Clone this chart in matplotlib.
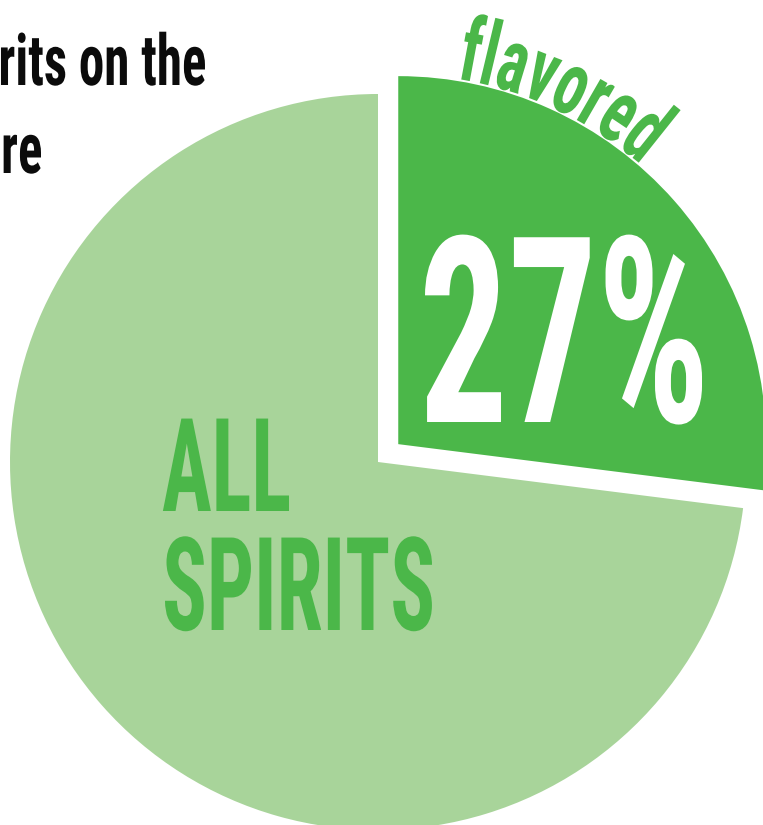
import numpy as np
import matplotlib
matplotlib.use("Agg")
import matplotlib.pyplot as plt
from matplotlib.patheffects import AbstractPathEffect
from matplotlib.transforms import Affine2D
from matplotlib.font_manager import FontProperties, findfont, get_font
from matplotlib.textpath import TextPath

# ---- data -------------------------------------------------------------
shares = [27, 73]
segment_names = ["flavored", "ALL SPIRITS"]
segment_colors = ["#4BB749", "#A8D49A"]
title_lines = ["Flavored spirits on the", "market share"]
title_color = "#0b0b0b"

# ---- canvas in pixel units --------------------------------------------
W, H = 763, 825
DPI = 100
PX = DPI / 72.0
fig = plt.figure(figsize=(W / DPI, H / DPI), dpi=DPI)
ax = fig.add_axes([0, 0, 1, 1])


def Y(py):
    """Convert a top-down pixel row to the axes' bottom-up y coordinate."""
    return H - py


class Tall(AbstractPathEffect):
    """Draw text glyphs stretched vertically about their baseline."""

    def __init__(self, sy):
        super().__init__()
        self.sy = sy

    def draw_path(self, renderer, gc, tpath, affine, rgbFace=None):
        renderer.draw_path(gc, tpath, Affine2D().scale(1.0, self.sy) + affine, rgbFace)


def pick_family():
    for fam in ["Roboto Condensed", "Open Sans Condensed", "Liberation Sans Narrow", "DejaVu Sans"]:
        try:
            findfont(FontProperties(family=fam, weight="bold"), fallback_to_default=False)
            return fam
        except Exception:
            continue
    return "DejaVu Sans"


FAM = pick_family()
FP = FontProperties(family=FAM, weight="bold")


def ink(s, size):
    """Ink extents of a string (left offset, width, height), in pixels."""
    e = TextPath((0, 0), s, size=size, prop=FP).get_extents()
    return e.x0 * PX, e.width * PX, e.height * PX


def fit(sample, width_px, height_px):
    """Font size giving the wanted ink width, the vertical stretch and the ink offset."""
    _, w, _ = ink(sample, 100)
    size = 100 * width_px / w
    x0, _, h = ink(sample, size)
    return size, height_px / h, x0


# ---- pie ----------------------------------------------------------------
cx, cy, R = 378, Y(462), 368
pull = 27
ax.pie(shares, startangle=90, counterclock=False, center=(cx, cy), radius=R,
       explode=[pull, 0], colors=segment_colors,
       wedgeprops=dict(linewidth=0))

# ---- "27%" ----------------------------------------------------------------
pct_text = f"{shares[0]}%"
fs_pct, sy_pct, off_pct = fit(pct_text, 277, 190)
ax.text(425 - off_pct, Y(422), pct_text, fontsize=fs_pct, family=FAM, weight="bold",
        color="white", ha="left", va="baseline",
        path_effects=[Tall(sy_pct)])

# ---- "ALL SPIRITS" ----------------------------------------------------------
big_lines = segment_names[1].split(" ")
fs_big, sy_big, off_big = fit(big_lines[1], 267, 95)
for line, base in zip(big_lines, [511, 630]):
    ax.text(165 - off_big, Y(base), line, fontsize=fs_big, family=FAM, weight="bold",
            color=segment_colors[0], ha="left", va="baseline",
            path_effects=[Tall(sy_big)])

# ---- curved "flavored" along the pulled-out slice --------------------------
mid = np.deg2rad(90 - shares[0] / sum(shares) * 360 / 2)
fcx, fcy = cx + pull * np.cos(mid), cy + pull * np.sin(mid)
word = segment_names[0]
R_txt = 370
phi0, phi1 = np.deg2rad(9.0), np.deg2rad(41.0)
font = get_font(findfont(FP))
font.set_size(100, DPI)
adv100 = np.array([font.load_char(ord(c)).linearHoriAdvance / 65536 for c in word])
fs_word = 100 * R_txt * (phi1 - phi0) / adv100.sum()
adv = adv100 * fs_word / 100
sy_word = 69 / ink(word, fs_word)[2]
cum = np.concatenate([[0], np.cumsum(adv)[:-1]])
for ch, a, c0 in zip(word, adv, cum):
    phi = phi0 + (c0 + a / 2) / R_txt
    px = fcx + R_txt * np.sin(phi)
    py = fcy + R_txt * np.cos(phi)
    tx, ty = np.cos(phi), -np.sin(phi)
    ax.text(px - tx * a / 2, py - ty * a / 2, ch, fontsize=fs_word, family=FAM,
            weight="bold", color=segment_colors[0], rotation=-np.rad2deg(phi),
            rotation_mode="anchor", ha="left", va="baseline",
            path_effects=[Tall(sy_word)])

# ---- title (runs off the left edge) -----------------------------------------
fs_title, sy_title, _ = fit("rits on the", 204, 54)
for line, right, base in zip(title_lines, [207, 43], [85, 173]):
    ax.text(right, Y(base), line, fontsize=fs_title, family=FAM, weight="bold",
            color=title_color, ha="right", va="baseline",
            path_effects=[Tall(sy_title)])

ax.set_aspect("equal", adjustable="box")
ax.set_xlim(0, W)
ax.set_ylim(0, H)
ax.axis("off")

fig.savefig("out.png", dpi=DPI, facecolor="white")
